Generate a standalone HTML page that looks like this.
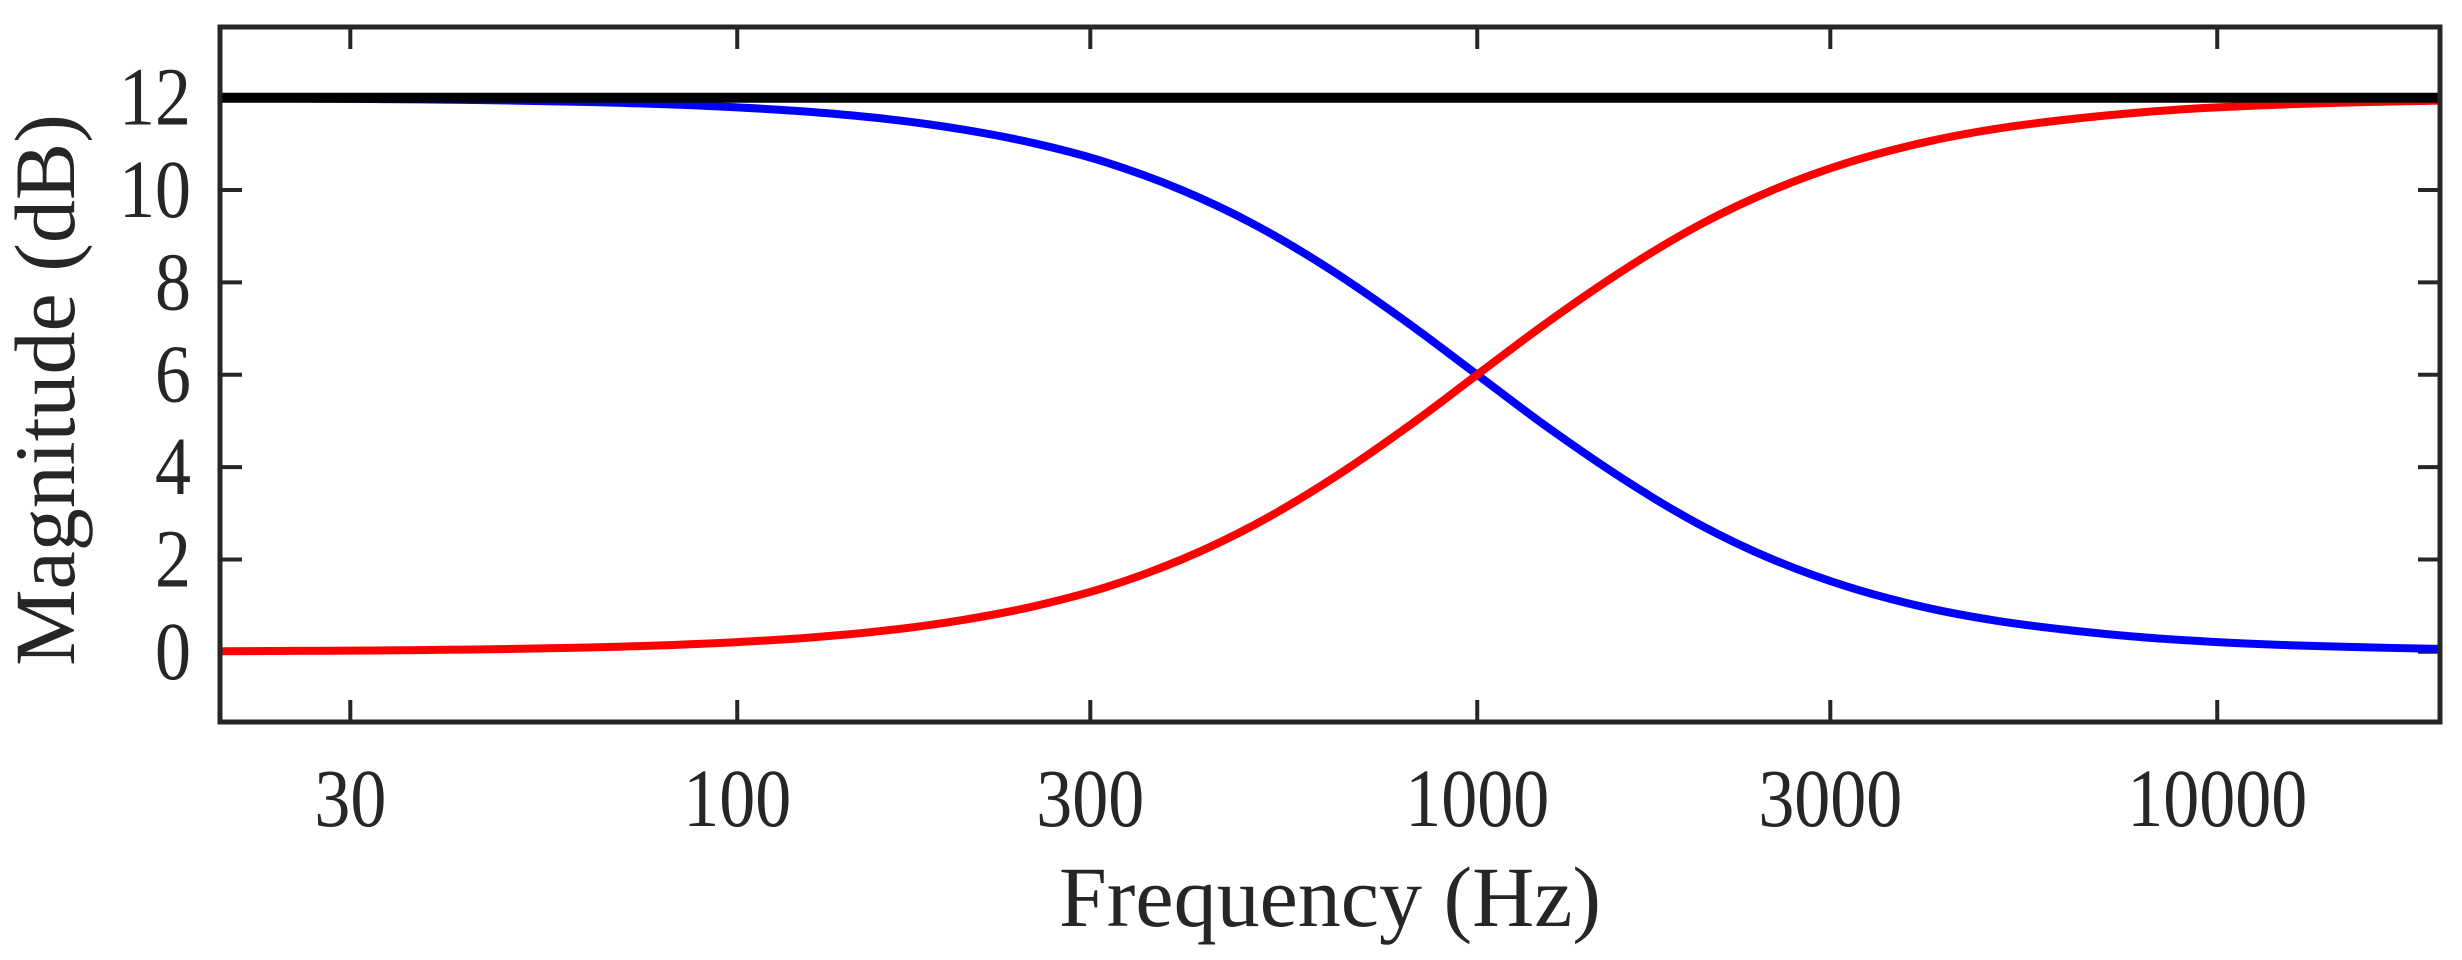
<!DOCTYPE html>
<html><head><meta charset="utf-8"><style>
html,body{margin:0;padding:0;background:#fff;}
svg{display:block;}
text{font-family:"Liberation Serif",serif;fill:#262626;}
</style></head><body>
<svg id="chart" width="2462" height="960" xmlns="http://www.w3.org/2000/svg">
<g id="ticks"></g>
<g id="series"></g>
<rect x="220" y="27" width="2220" height="695" fill="none" stroke="#262626" stroke-width="5"/>
<g id="labels"></g>
<text x="1330" y="926" font-size="86" text-anchor="middle">Frequency (Hz)</text>
<text transform="translate(74,390) rotate(-90)" font-size="86" text-anchor="middle">Magnitude (dB)</text>
</svg>
<script>
const freqs = [20,25,32,40,50,63,80,100,125,160,200,250,315,400,500,630,800,1000,1250,1600,2000,2500,3150,4000,5000,6300,8000,10000,12500,16000,20000];
const highShelf = [0.013,0.019,0.029,0.043,0.063,0.094,0.143,0.21,0.307,0.467,0.68,0.975,1.40,2.01,2.75,3.70,4.84,6.0,7.16,8.33,9.25,9.99,10.58,11.025,11.32,11.53,11.69,11.79,11.857,11.905,11.937];
const lowShelf = [11.987,11.981,11.971,11.957,11.937,11.906,11.857,11.79,11.693,11.533,11.32,11.025,10.60,9.99,9.25,8.30,7.16,6.0,4.84,3.67,2.75,2.01,1.42,0.975,0.68,0.47,0.31,0.21,0.143,0.095,0.063];
const flatSum = [12,12,12,12,12,12,12,12,12,12,12,12,12,12,12,12,12,12,12,12,12,12,12,12,12,12,12,12,12,12,12];
const xTicks = [30,100,300,1000,3000,10000];
const yTicks = [0,2,4,6,8,10,12];
const L=220,R=2440,T=27,B=722,xmin=20,xmax=20000,ymin=-1.52,ymax=13.53;
const ns="http://www.w3.org/2000/svg";
function xs(f){return L+(Math.log10(f)-Math.log10(xmin))/(Math.log10(xmax)-Math.log10(xmin))*(R-L);}
function ys(v){return B-(v-ymin)/(ymax-ymin)*(B-T);}
function mk(tag,attrs,parent){const e=document.createElementNS(ns,tag);for(const k in attrs)e.setAttribute(k,attrs[k]);parent.appendChild(e);return e;}
const tg=document.getElementById('ticks'),lg=document.getElementById('labels'),sg=document.getElementById('series');
xTicks.forEach(t=>{const x=xs(t);
 let a=mk('line',{x1:x,x2:x,y1:B,y2:B-22,stroke:'#262626','stroke-width':4},tg);
 
 
 let b=mk('line',{x1:x,x2:x,y1:T,y2:T+22,stroke:'#262626','stroke-width':4},tg);
 
 
 let s=mk('text',{transform:'translate('+x+',826) scale(1,1.15)','font-size':72,'text-anchor':'middle'},lg);s.textContent=t;
 
 
});
yTicks.forEach(t=>{const y=ys(t);
 let a=mk('line',{x1:L,x2:L+22,y1:y,y2:y,stroke:'#262626','stroke-width':4},tg);
 
 
 let b=mk('line',{x1:R,x2:R-22,y1:y,y2:y,stroke:'#262626','stroke-width':4},tg);
 
 
 let s=mk('text',{transform:'translate(191,'+(y+27)+') scale(1,1.15)','font-size':72,'text-anchor':'end'},lg);s.textContent=t;
 
 
});
function line(vals,color,w,name){
 const p=freqs.map((f,i)=>[xs(f),ys(vals[i])]);
 let d='M'+p[0][0].toFixed(1)+','+p[0][1].toFixed(1);
 for(let i=0;i<p.length-1;i++){
  const p0=p[Math.max(0,i-1)],p1=p[i],p2=p[i+1],p3=p[Math.min(p.length-1,i+2)];
  const c1=[p1[0]+(p2[0]-p0[0])/6,p1[1]+(p2[1]-p0[1])/6];
  const c2=[p2[0]-(p3[0]-p1[0])/6,p2[1]-(p3[1]-p1[1])/6];
  d+=' C'+c1[0].toFixed(1)+','+c1[1].toFixed(1)+' '+c2[0].toFixed(1)+','+c2[1].toFixed(1)+' '+p2[0].toFixed(1)+','+p2[1].toFixed(1);
 }
 const e=mk('path',{d:d,fill:'none',stroke:color,'stroke-width':w,'stroke-linejoin':'round'},sg);
 
 
}
line(lowShelf,'#0000ff',8,'low-shelf-line');
line(highShelf,'#ff0000',8,'high-shelf-line');
line(flatSum,'#000000',10,'flat-sum-line');
</script>
</body></html>
